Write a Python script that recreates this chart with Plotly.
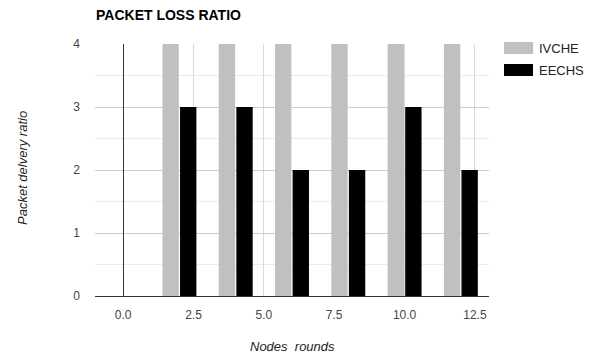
import plotly.graph_objects as go

# Node rounds and loss ratios per protocol
rounds = [2, 4, 6, 8, 10, 12]
ivche = [4, 4, 4, 4, 4, 4]
eechs = [3, 3, 2, 2, 3, 2]
series_names = ["IVCHE", "EECHS"]
series_colors = ["#c0c0c0", "#000000"]

FONT = "Liberation Sans, Arial, sans-serif"

fig = go.Figure()
for name, vals, col in zip(series_names, [ivche, eechs], series_colors):
    fig.add_trace(go.Bar(x=rounds, y=vals, name=name, marker_color=col,
                         marker_line_width=0, showlegend=False))

fig.update_layout(
    width=597, height=355,
    margin=dict(l=95, r=108, t=44, b=59),
    paper_bgcolor="white", plot_bgcolor="white",
    barmode="group", bargap=0.375, bargroupgap=0.07,
    font=dict(family=FONT, size=12, color="#444444"),
    title=dict(text="<b>PACKET LOSS RATIO</b>", x=96/597, xanchor="left",
               y=1-15/355, yanchor="middle",
               font=dict(family=FONT, size=14, color="#000000")),
)

fig.update_xaxes(range=[-1, 13], dtick=2.5, tick0=0, tickformat=".1f",
                 showgrid=True, gridcolor="#d9d9d9", gridwidth=1,
                 zeroline=True, zerolinecolor="#333333", zerolinewidth=1,
                 showline=False, ticks="", ticklabelstandoff=10,
                 tickfont=dict(size=12, color="#444444"))
fig.update_yaxes(range=[0, 4], dtick=1, tick0=0,
                 showgrid=True, gridcolor="#cccccc", gridwidth=1,
                 minor=dict(dtick=0.5, showgrid=True, gridcolor="#ebebeb"),
                 zeroline=True, zerolinecolor="#333333", zerolinewidth=1,
                 showline=False, ticks="", ticklabelstandoff=14,
                 tickfont=dict(size=12, color="#444444"))

# Axis titles
fig.add_annotation(text="<i>Nodes&nbsp;&nbsp;rounds</i>", xref="paper", yref="paper",
                   x=(292-95)/394, y=-(346-296)/252, showarrow=False,
                   xanchor="center", yanchor="middle",
                   font=dict(family=FONT, size=13, color="#222222"))
fig.add_annotation(text="<i>Packet delvery ratio</i>", xref="paper", yref="paper",
                   x=-(95-22)/394, y=(296-168)/252, showarrow=False, textangle=-90,
                   xanchor="center", yanchor="middle",
                   font=dict(family=FONT, size=13, color="#222222"))

# Legend: wide swatches with labels
for i, (name, col) in enumerate(zip(series_names, series_colors)):
    yc = 48 + i * 22
    fig.add_shape(type="rect", xref="paper", yref="paper",
                  x0=(504-95)/394, x1=(533-95)/394,
                  y0=(296-(yc+6))/252, y1=(296-(yc-6))/252,
                  fillcolor=col, line_width=0)
    fig.add_annotation(text=name, xref="paper", yref="paper",
                       x=(537-95)/394, y=(296-yc)/252, showarrow=False,
                       xanchor="left", yanchor="middle",
                       font=dict(family=FONT, size=13, color="#222222"))

fig.write_html("out.html")
